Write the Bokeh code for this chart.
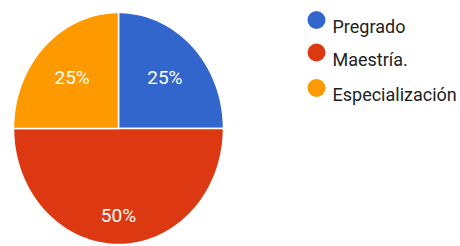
import math
from bokeh.plotting import figure
from bokeh.models import Range1d
from bokeh.core.properties import value
from bokeh.embed import file_html
from bokeh.resources import INLINE

categories = ["Pregrado", "Maestría.", "Especialización"]
values = [25, 50, 25]
colors = ["#3366CC", "#DC3912", "#FF9900"]

# layout (page pixel coordinates)
W, H = 460, 246
cx, cy = 118, 128
rx, ry = 105, 116

p = figure(width=W, height=H, output_backend="svg", toolbar_location=None,
           x_range=Range1d(0, W), y_range=Range1d(H, 0), min_border=0)
p.axis.visible = False
p.grid.visible = False
p.outline_line_color = None

total = sum(values)
start = 0.0
xs, ys, lx, ly, lt = [], [], [], [], []
for v in values:
    frac = v / total
    a0 = start * 2 * math.pi
    a1 = (start + frac) * 2 * math.pi
    n = max(8, int(frac * 200))
    px = [cx]
    py = [cy]
    for i in range(n + 1):
        a = a0 + (a1 - a0) * i / n
        px.append(cx + rx * math.sin(a))
        py.append(cy - ry * math.cos(a))
    xs.append(px)
    ys.append(py)
    am = (a0 + a1) / 2
    rf = 0.5 + 0.5 * frac
    lx.append(cx + rx * rf * math.sin(am))
    ly.append(cy - ry * rf * math.cos(am))
    lt.append(f"{round(frac * 100)}%")
    start += frac

p.patches(xs, ys, fill_color=colors, line_color="white", line_width=1.5)
p.text(lx, ly, text=lt, text_color="white", text_font=value("Roboto"),
       text_font_size="19px", text_align="center", text_baseline="middle")

leg_y = [19.5, 52, 87.5]
p.scatter([316] * 3, leg_y, size=18, marker="circle", fill_color=colors, line_color=None)
p.text([332] * 3, [y + 6.5 for y in leg_y], text=categories, text_color="#222222",
       text_font=value("Roboto"), text_font_size="18px",
       text_align="left", text_baseline="alphabetic")

open("out.html", "w").write(file_html(p, INLINE))
